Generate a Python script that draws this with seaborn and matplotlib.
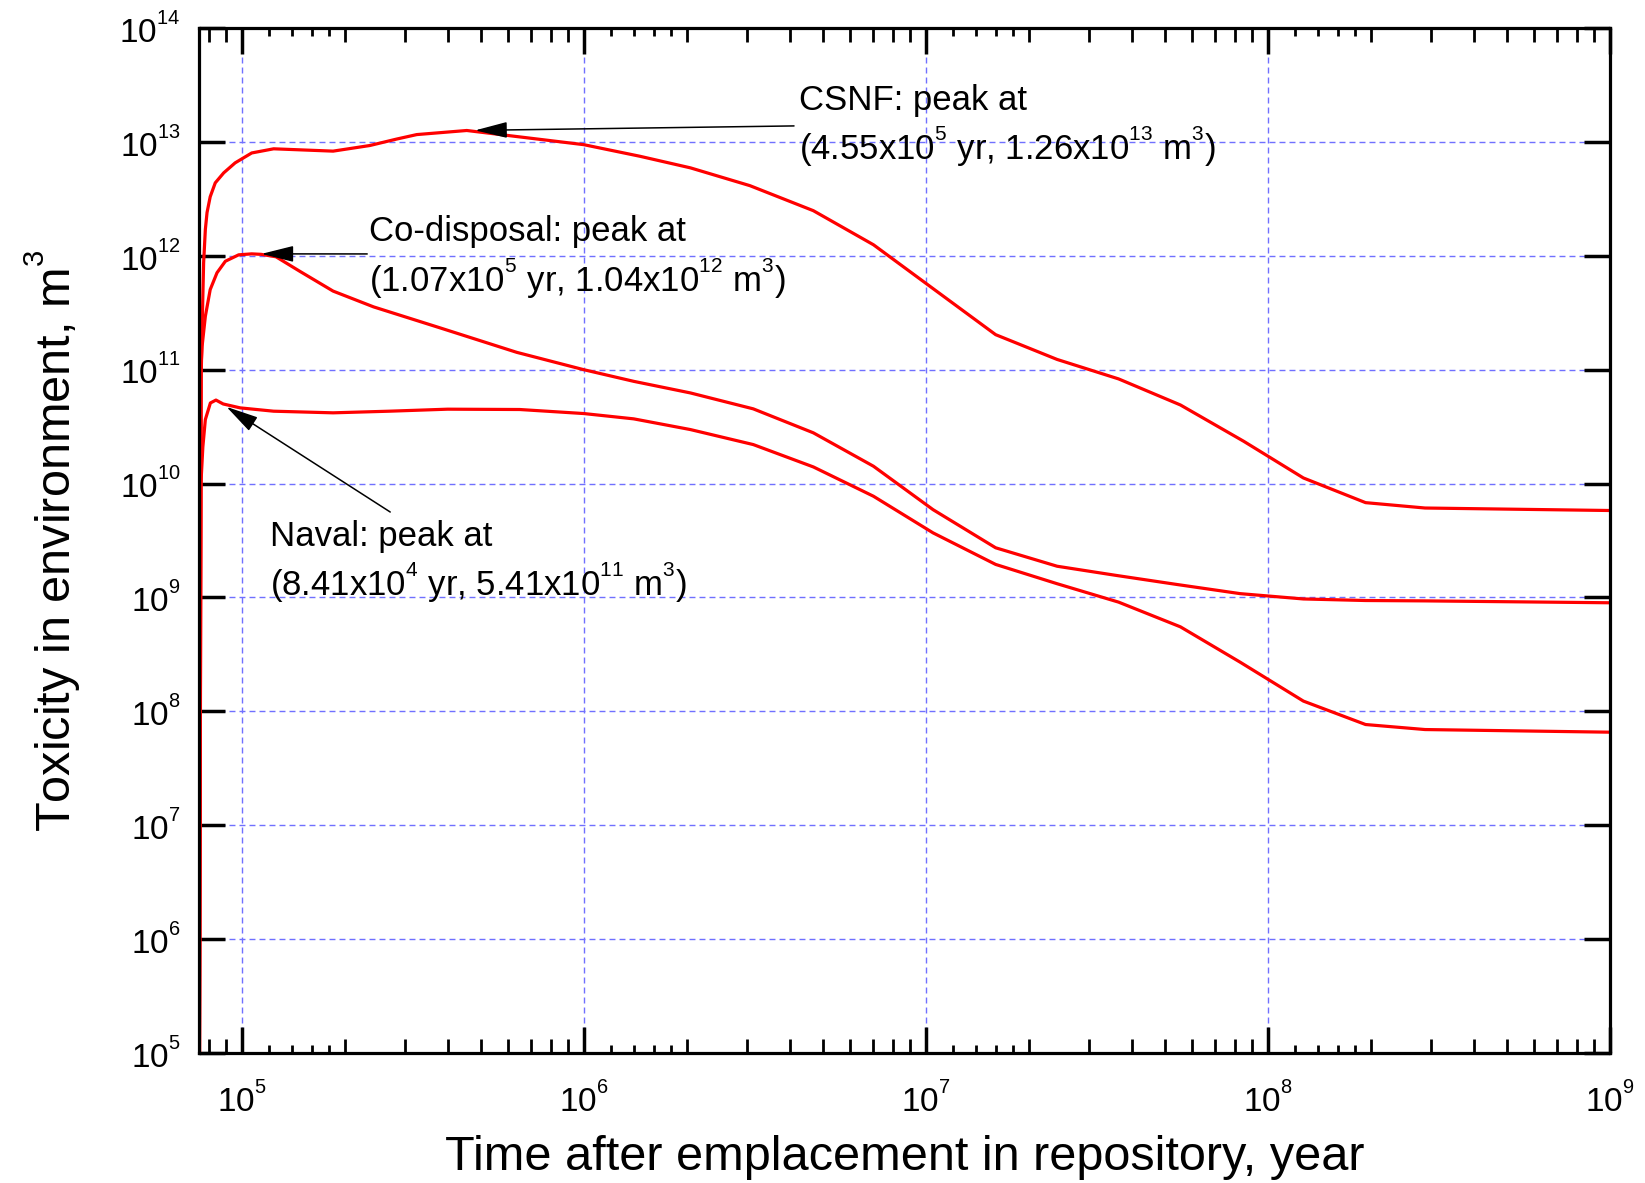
import matplotlib
matplotlib.use('Agg')
import matplotlib._mathtext as mathtext_internals
import pandas as pd
import seaborn as sns
import matplotlib.pyplot as plt
from matplotlib.ticker import LogLocator, FixedLocator, NullLocator, NullFormatter

# ---- data (time in years, toxicity in m^3) ----
csnf_t = [7.5e4, 7.62e4, 7.66e4, 7.74e4, 7.83e4, 7.92e4, 8.09e4, 8.37e4, 8.86e4, 9.57e4,
          1.07e5, 1.24e5, 1.85e5, 2.37e5, 2.84e5, 3.25e5, 4.55e5, 1.0e6, 1.46e6, 2.05e6,
          3.06e6, 4.69e6, 7.03e6, 1.6e7, 2.42e7, 3.66e7, 5.55e7, 8.5e7, 1.27e8, 1.93e8,
          2.88e8, 1.0e9]
csnf_v = [1e3, 1.0e11, 2.25e11, 8.7e11, 1.7e12, 2.4e12, 3.3e12, 4.37e12, 5.35e12, 6.55e12,
          8.0e12, 8.7e12, 8.3e12, 9.3e12, 1.06e13, 1.16e13, 1.26e13, 9.46e12, 7.48e12, 5.92e12,
          4.13e12, 2.49e12, 1.25e12, 2.03e11, 1.23e11, 8.3e10, 4.9e10, 2.35e10, 1.12e10, 6.8e9,
          6.1e9, 5.8e9]

codisp_t = [7.5e4, 7.6e4, 7.66e4, 7.83e4, 8.09e4, 8.47e4, 8.96e4, 9.8e4, 1.07e5, 1.14e5,
            1.26e5, 1.48e5, 1.85e5, 2.43e5, 3.8e5, 6.37e5, 1.0e6, 1.4e6, 2.05e6, 3.13e6,
            4.69e6, 7.03e6, 1.05e7, 1.6e7, 2.42e7, 3.61e7, 5.42e7, 8.3e7, 1.27e8, 1.93e8,
            2.88e8, 1.0e9]
codisp_v = [1e3, 1.0e11, 1.6e11, 2.94e11, 5.05e11, 7.1e11, 8.96e11, 1.02e12, 1.04e12, 1.03e12,
            9.8e11, 7.3e11, 4.9e11, 3.56e11, 2.33e11, 1.42e11, 1.0e11, 7.9e10, 6.25e10, 4.53e10,
            2.79e10, 1.42e10, 5.9e9, 2.73e9, 1.88e9, 1.56e9, 1.30e9, 1.08e9, 9.7e8, 9.4e8,
            9.33e8, 8.98e8]

naval_t = [7.5e4, 7.6e4, 7.7e4, 7.83e4, 8.1e4, 8.41e4, 8.83e4, 9.9e4, 1.24e5, 1.85e5,
           2.7e5, 4.0e5, 6.5e5, 1.0e6, 1.4e6, 2.05e6, 3.13e6, 4.69e6, 7.03e6, 1.05e7,
           1.6e7, 2.42e7, 3.66e7, 5.55e7, 8.3e7, 1.27e8, 1.93e8, 2.88e8, 1.0e9]
naval_v = [1e3, 1.0e10, 2.1e10, 3.65e10, 5.1e10, 5.41e10, 5.0e10, 4.62e10, 4.32e10, 4.18e10,
           4.32e10, 4.5e10, 4.47e10, 4.12e10, 3.7e10, 2.98e10, 2.2e10, 1.4e10, 7.74e9, 3.69e9,
           1.95e9, 1.32e9, 9.1e8, 5.52e8, 2.7e8, 1.23e8, 7.66e7, 6.92e7, 6.56e7]

# peaks quoted in the annotations
peak_t = {'CSNF': 4.55e5, 'Co-disposal': 1.07e5, 'Naval': 8.41e4}
peak_v = {'CSNF': 1.26e13, 'Co-disposal': 1.04e12, 'Naval': 5.41e10}
line1 = {'CSNF': 'CSNF: peak at', 'Co-disposal': 'Co-disposal: peak at', 'Naval': 'Naval: peak at'}
line2 = {'CSNF': '(4.55x10$^{5}$ yr, 1.26x10$^{13}$ m$^{3}$)',
         'Co-disposal': '(1.07x10$^{5}$ yr, 1.04x10$^{12}$ m$^{3}$)',
         'Naval': '(8.41x10$^{4}$ yr, 5.41x10$^{11}$ m$^{3}$)'}

df = pd.concat([
    pd.DataFrame({'time': csnf_t, 'tox': csnf_v, 'waste': 'CSNF'}),
    pd.DataFrame({'time': codisp_t, 'tox': codisp_v, 'waste': 'Co-disposal'}),
    pd.DataFrame({'time': naval_t, 'tox': naval_v, 'waste': 'Naval'}),
], ignore_index=True)

# ---- style ----
sns.set_style('ticks')
plt.rcParams['font.family'] = ['Liberation Sans', 'DejaVu Sans']
plt.rcParams['mathtext.fontset'] = 'custom'
plt.rcParams['mathtext.rm'] = 'Liberation Sans'
plt.rcParams['mathtext.it'] = 'Liberation Sans:italic'
plt.rcParams['mathtext.default'] = 'regular'
for key in ['text.color', 'axes.labelcolor', 'xtick.color', 'ytick.color', 'axes.edgecolor']:
    plt.rcParams[key] = 'black'
# smaller, higher exponents like the original plotting program
mathtext_internals.SHRINK_FACTOR = 0.6
mathtext_internals.FontConstantsBase.sup1 = 1.0

fig = plt.figure(figsize=(16.45, 11.83), dpi=100)
ax = fig.add_axes([0.1207, 0.1099, 0.858, 0.8664])

sns.lineplot(data=df, x='time', y='tox', units='waste', estimator=None, sort=False,
             color='#ff0000', lw=2.3, legend=False, ax=ax)

ax.set_xscale('log')
ax.set_yscale('log')
ax.set_xlim(7.48e4, 1e9)
ax.set_ylim(1e5, 1e14)

# ticks
ax.xaxis.set_major_locator(LogLocator(base=10, numticks=20))
minor_x = [8e4, 9e4] + [k * 10**d for d in range(5, 9) for k in range(2, 10)]
ax.xaxis.set_minor_locator(FixedLocator(minor_x))
ax.xaxis.set_minor_formatter(NullFormatter())
ax.yaxis.set_major_locator(LogLocator(base=10, numticks=20))
ax.yaxis.set_minor_locator(NullLocator())
ax.tick_params(which='major', direction='in', length=19, width=2.5, top=True, right=True,
               labelsize=24, color='black')
ax.tick_params(axis='x', which='major', pad=21)
ax.tick_params(axis='y', which='major', pad=13)
ax.tick_params(which='minor', direction='in', length=10, width=2, top=True, bottom=True)

# the small 1.2-1.8 ticks
short_x = [s * 10**d for d in range(5, 9) for s in (1.2, 1.4, 1.6, 1.8)]
for side in ('bottom', 'top'):
    sec = ax.secondary_xaxis(side)
    sec.set_xticks(short_x)
    sec.xaxis.set_major_formatter(NullFormatter())
    sec.xaxis.set_minor_locator(NullLocator())
    sec.tick_params(which='major', direction='in', length=5.5, width=2)
    for sp in sec.spines.values():
        sp.set_visible(False)

for sp in ax.spines.values():
    sp.set_linewidth(2.3)
    sp.set_color('black')

ax.grid(True, which='major', color='#7070ff', ls=(0, (4.3, 2.9)), lw=1.0)
ax.set_axisbelow(True)

ax.set_xlabel('Time after emplacement in repository, year', fontsize=35, labelpad=12)
ax.set_ylabel('Toxicity in environment, m$^{3}$', fontsize=35, labelpad=26)

# annotations
arrow_from = {'CSNF': (0.4219, 0.9045), 'Co-disposal': (0.1195, 0.7796), 'Naval': (0.1358, 0.5278)}
shrink = {'CSNF': 6, 'Co-disposal': 7, 'Naval': 9}
text_pos = {'CSNF': (0.4257, 0.920, 0.8717), 'Co-disposal': (0.1208, 0.7922, 0.7428),
            'Naval': (0.0504, 0.4951, 0.4459)}
for k in ['CSNF', 'Co-disposal', 'Naval']:
    ax.annotate('', xy=(peak_t[k], peak_v[k]), xycoords='data',
                xytext=arrow_from[k], textcoords='axes fraction',
                arrowprops=dict(arrowstyle='-|>,head_length=1.0,head_width=0.25',
                                mutation_scale=20, color='black', lw=1.1,
                                shrinkA=0, shrinkB=shrink[k]))
    x, y1, y2 = text_pos[k]
    ax.text(x, y1, line1[k], transform=ax.transAxes, fontsize=25, va='baseline', ha='left')
    ax.text(x, y2, line2[k], transform=ax.transAxes, fontsize=25, va='baseline', ha='left')

fig.savefig('out.png', dpi=100)
